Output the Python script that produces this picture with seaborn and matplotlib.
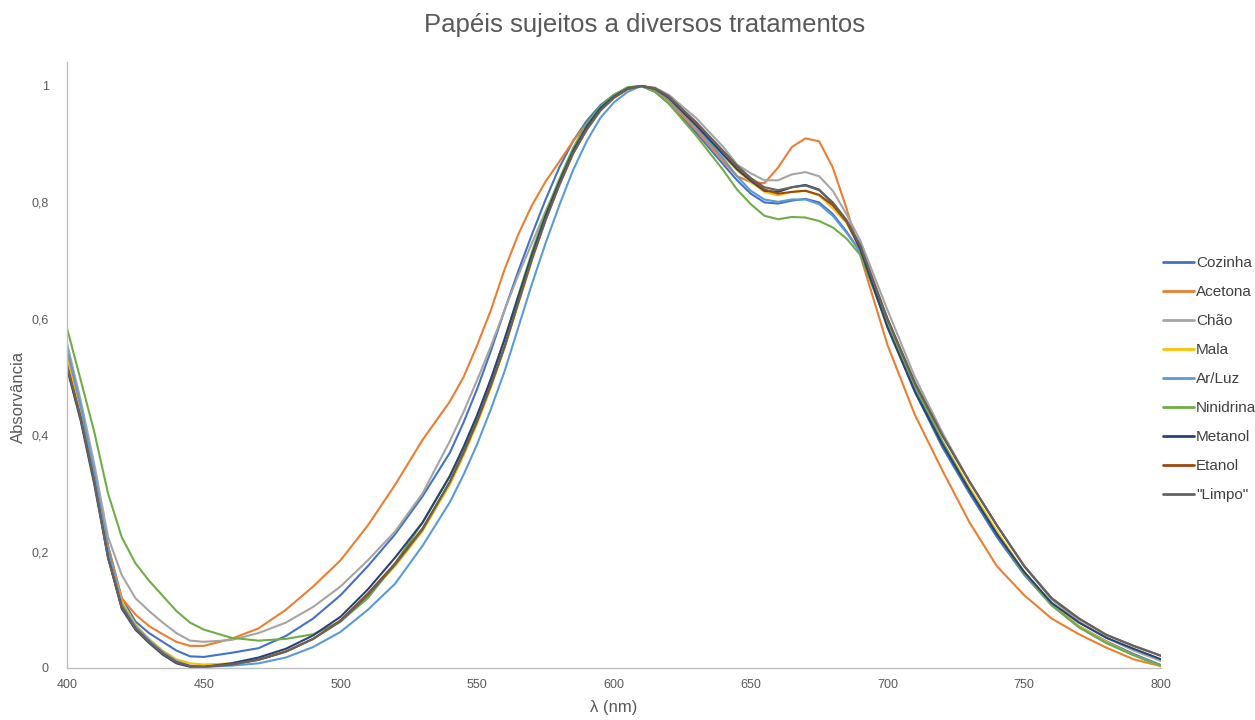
import numpy as np
import pandas as pd
import matplotlib
matplotlib.use("Agg")
import matplotlib.pyplot as plt
import seaborn as sns
from matplotlib.lines import Line2D

wavelength = [400, 405, 410, 415, 420, 425, 430, 435, 440, 445, 450,
              460, 470, 480, 490, 500, 510, 520, 530, 540,
              545, 550, 555, 560, 565, 570, 575, 580, 585, 590, 595, 600, 605, 610, 615, 620,
              630, 640,
              645, 650, 655, 660, 665, 670, 675, 680, 685, 690,
              700, 710, 720, 730, 740, 750, 760, 770, 780, 790, 800]

cozinha = [0.53, 0.44, 0.33, 0.21, 0.12, 0.08, 0.06, 0.045, 0.03, 0.02, 0.019,
           0.026, 0.034, 0.055, 0.085, 0.125, 0.175, 0.23, 0.295, 0.37,
           0.422, 0.48, 0.545, 0.615, 0.682, 0.745, 0.805, 0.86, 0.905, 0.94, 0.967, 0.985, 0.997, 1.0, 0.99, 0.97,
           0.92, 0.865,
           0.838, 0.815, 0.8, 0.798, 0.803, 0.806, 0.8, 0.78, 0.75, 0.715,
           0.59, 0.475, 0.38, 0.3, 0.225, 0.16, 0.108, 0.072, 0.046, 0.024, 0.005]
acetona = [0.54, 0.445, 0.335, 0.21, 0.12, 0.092, 0.072, 0.058, 0.045, 0.038, 0.038,
           0.05, 0.068, 0.1, 0.14, 0.185, 0.245, 0.315, 0.392, 0.458,
           0.50, 0.555, 0.615, 0.685, 0.745, 0.795, 0.836, 0.87, 0.905, 0.935, 0.96, 0.98, 0.995, 1.0, 0.993, 0.975,
           0.925, 0.87,
           0.845, 0.835, 0.833, 0.86, 0.895, 0.91, 0.905, 0.86, 0.79, 0.71,
           0.555, 0.435, 0.34, 0.25, 0.175, 0.125, 0.085, 0.058, 0.035, 0.015, 0.003]
chao = [0.558, 0.46, 0.35, 0.225, 0.16, 0.12, 0.098, 0.078, 0.06, 0.047, 0.045,
        0.048, 0.06, 0.078, 0.105, 0.14, 0.185, 0.235, 0.30, 0.39,
        0.44, 0.495, 0.553, 0.615, 0.675, 0.73, 0.785, 0.835, 0.885, 0.925, 0.958, 0.98, 0.995, 1.0, 0.997, 0.985,
        0.945, 0.895,
        0.865, 0.85, 0.838, 0.838, 0.848, 0.852, 0.845, 0.82, 0.78, 0.735,
        0.615, 0.50, 0.405, 0.32, 0.245, 0.175, 0.118, 0.08, 0.052, 0.03, 0.012]
mala = [0.53, 0.435, 0.325, 0.2, 0.115, 0.075, 0.05, 0.03, 0.015, 0.008, 0.006,
        0.008, 0.015, 0.029, 0.05, 0.08, 0.125, 0.175, 0.235, 0.315,
        0.365, 0.42, 0.482, 0.55, 0.625, 0.70, 0.77, 0.83, 0.883, 0.925, 0.958, 0.98, 0.995, 1.0, 0.995, 0.98,
        0.932, 0.88,
        0.855, 0.835, 0.818, 0.812, 0.818, 0.82, 0.812, 0.79, 0.765, 0.72,
        0.595, 0.485, 0.39, 0.31, 0.235, 0.165, 0.11, 0.072, 0.045, 0.022, 0.003]
ar_luz = [0.55, 0.45, 0.335, 0.205, 0.11, 0.072, 0.048, 0.028, 0.012, 0.004, 0.002,
          0.004, 0.008, 0.018, 0.036, 0.062, 0.1, 0.145, 0.21, 0.285,
          0.332, 0.385, 0.445, 0.51, 0.585, 0.66, 0.73, 0.795, 0.855, 0.905, 0.945, 0.972, 0.99, 1.0, 0.995, 0.978,
          0.93, 0.875,
          0.845, 0.82, 0.805, 0.801, 0.805, 0.805, 0.797, 0.777, 0.748, 0.715,
          0.59, 0.48, 0.385, 0.305, 0.23, 0.162, 0.108, 0.07, 0.043, 0.022, 0.004]
ninidrina = [0.584, 0.495, 0.405, 0.30, 0.225, 0.18, 0.15, 0.124, 0.098, 0.078, 0.066,
             0.052, 0.047, 0.05, 0.058, 0.08, 0.12, 0.18, 0.25, 0.33,
             0.378, 0.43, 0.495, 0.565, 0.64, 0.715, 0.782, 0.84, 0.893, 0.935, 0.965, 0.985, 0.998, 1.0, 0.99, 0.97,
             0.915, 0.855,
             0.822, 0.797, 0.777, 0.771, 0.775, 0.774, 0.768, 0.757, 0.738, 0.71,
             0.59, 0.485, 0.39, 0.305, 0.23, 0.162, 0.108, 0.07, 0.043, 0.022, 0.004]
metanol = [0.515, 0.425, 0.315, 0.19, 0.102, 0.066, 0.043, 0.023, 0.008, 0.002, 0.002,
           0.008, 0.018, 0.033, 0.056, 0.088, 0.135, 0.19, 0.25, 0.33,
           0.38, 0.435, 0.497, 0.565, 0.638, 0.71, 0.777, 0.835, 0.888, 0.93, 0.962, 0.982, 0.996, 1.0, 0.995, 0.98,
           0.933, 0.882,
           0.857, 0.837, 0.82, 0.818, 0.826, 0.83, 0.822, 0.798, 0.768, 0.72,
           0.585, 0.475, 0.385, 0.305, 0.23, 0.165, 0.112, 0.078, 0.052, 0.033, 0.015]
etanol = [0.52, 0.43, 0.32, 0.19, 0.105, 0.068, 0.045, 0.025, 0.01, 0.003, 0.002,
          0.006, 0.014, 0.028, 0.05, 0.082, 0.128, 0.18, 0.24, 0.32,
          0.37, 0.425, 0.486, 0.552, 0.628, 0.703, 0.77, 0.83, 0.884, 0.925, 0.958, 0.98, 0.995, 1.0, 0.996, 0.982,
          0.937, 0.887,
          0.862, 0.84, 0.822, 0.815, 0.818, 0.82, 0.813, 0.795, 0.767, 0.725,
          0.60, 0.49, 0.40, 0.32, 0.245, 0.175, 0.12, 0.085, 0.057, 0.038, 0.021]
limpo = [0.52, 0.43, 0.32, 0.19, 0.105, 0.068, 0.045, 0.025, 0.01, 0.003, 0.002,
         0.006, 0.014, 0.028, 0.05, 0.08, 0.125, 0.178, 0.238, 0.32,
         0.37, 0.425, 0.486, 0.552, 0.628, 0.703, 0.77, 0.83, 0.884, 0.925, 0.958, 0.98, 0.995, 1.0, 0.996, 0.982,
         0.938, 0.888,
         0.863, 0.842, 0.826, 0.821, 0.826, 0.829, 0.821, 0.8, 0.77, 0.727,
         0.60, 0.49, 0.40, 0.32, 0.245, 0.175, 0.12, 0.085, 0.057, 0.038, 0.021]

series_names = ["Cozinha", "Acetona", "Chão", "Mala", "Ar/Luz", "Ninidrina", "Metanol", "Etanol", "\"Limpo\""]
series_values = [cozinha, acetona, chao, mala, ar_luz, ninidrina, metanol, etanol, limpo]
colors = ["#4472C4", "#ED7D31", "#A5A5A5", "#FFC000", "#5B9BD5", "#70AD47", "#264478", "#9E480E", "#636363"]

x_ticks = [400, 450, 500, 550, 600, 650, 700, 750, 800]
y_ticks = [0, 0.2, 0.4, 0.6, 0.8, 1.0]
y_tick_labels = ["0", "0,2", "0,4", "0,6", "0,8", "1"]

frames = []
for name, vals in zip(series_names, series_values):
    frames.append(pd.DataFrame({"wl": wavelength, "abs": vals, "serie": name}))
df = pd.concat(frames, ignore_index=True)

sns.set_theme(style="white")
plt.rcParams["font.family"] = ["Liberation Sans", "DejaVu Sans"]

fig = plt.figure(figsize=(12.55, 7.2), dpi=100)
ax = fig.add_axes([67 / 1255, 52 / 720, (1161 - 67) / 1255, (668 - 62) / 720])

sns.lineplot(data=df, x="wl", y="abs", hue="serie", hue_order=series_names,
             palette=dict(zip(series_names, colors)), sort=False, linewidth=1.5,
             ax=ax, legend=False)

ax.set_xlim(400, 800)
ax.set_ylim(0, (668 - 62) / 582)
ax.set_xticks(x_ticks)
ax.set_xticklabels([str(t) for t in x_ticks], fontsize=9, color="#595959")
ax.set_yticks(y_ticks)
ax.set_yticklabels(y_tick_labels, fontsize=9, color="#595959")
ax.tick_params(axis="x", length=0, pad=8)
ax.tick_params(axis="y", length=0, pad=13)
for s in ["top", "right"]:
    ax.spines[s].set_visible(False)
for s in ["left", "bottom"]:
    ax.spines[s].set_color("#BFBFBF")
    ax.spines[s].set_linewidth(1.0)

ax.set_xlabel("λ (nm)", fontsize=12, color="#595959")
ax.xaxis.set_label_coords(0.5, -(700 - 668) / 606)
ax.set_ylabel("Absorvância", fontsize=12, color="#595959")
ax.yaxis.set_label_coords(-(67 - 26) / 1094, (668 - 397) / 606)
fig.suptitle("Papéis sujeitos a diversos tratamentos", fontsize=18.5, color="#595959",
             x=645 / 1255, y=1 - 13 / 720, va="top")

handles = [Line2D([0], [0], color=c, lw=2) for c in colors]
fig.legend(handles, series_names, loc="upper left", bbox_to_anchor=(1157 / 1255, 1 - 250 / 720),
           frameon=False, fontsize=11, labelspacing=0.98, handlelength=2.0, handletextpad=0.15,
           borderaxespad=0, labelcolor="#404040")

fig.savefig("out.png", dpi=100)
